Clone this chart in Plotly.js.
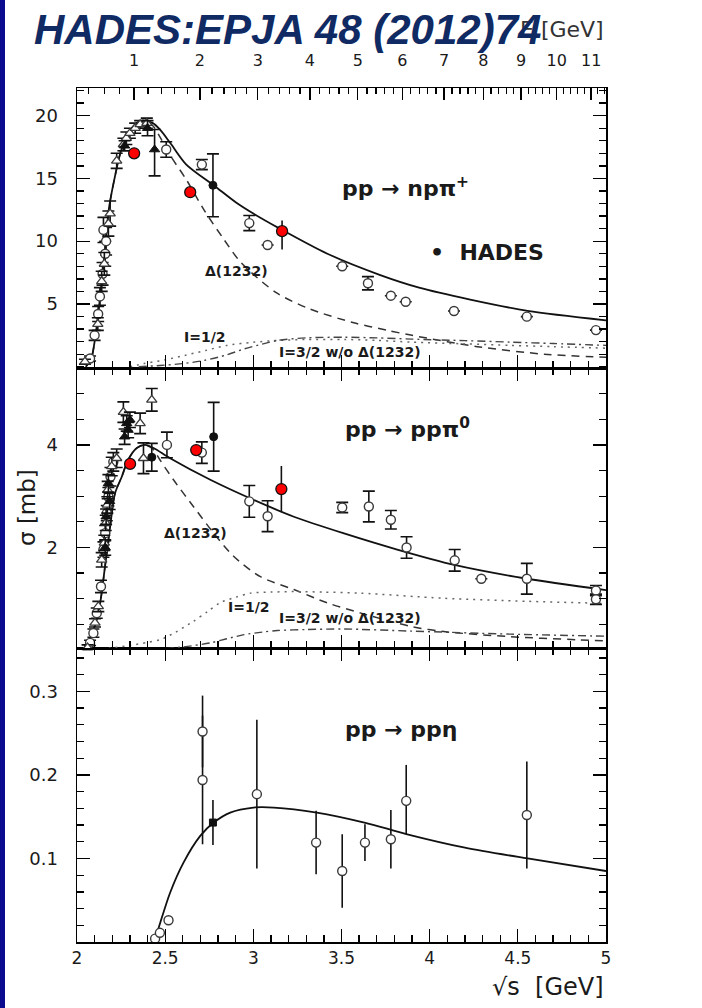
<!DOCTYPE html>
<html>
<head>
<meta charset="utf-8">
<script src="https://cdn.plot.ly/plotly-3.0.1.min.js"></script>
<style>
  html, body { margin: 0; padding: 0; background: #fff; }
  #chart { width: 702px; height: 1008px; }
</style>
</head>
<body>
<div id="chart"></div>
<script>
// ---------- pp -> n p pi+ (sigma in mb vs sqrt(s) in GeV) ----------
const npTotX = [2.05, 2.08, 2.10, 2.13, 2.16, 2.18, 2.21, 2.25, 2.30, 2.35, 2.38, 2.43, 2.47, 2.53, 2.62, 2.78, 2.90, 3.00, 3.15, 3.42, 3.72, 3.94, 4.23, 4.555, 5.0];
const npTotY = [0.0, 0.6, 2.0, 5.4, 9.5, 12.5, 14.8, 17.2, 18.8, 19.5, 19.6, 19.4, 18.9, 17.8, 16.1, 14.4, 13.1, 12.2, 11.0, 9.0, 7.3, 6.3, 5.35, 4.45, 3.7];

const npDeltaX = [2.05, 2.08, 2.10, 2.13, 2.16, 2.18, 2.21, 2.25, 2.30, 2.35, 2.38, 2.43, 2.47, 2.53, 2.62, 2.72, 2.83, 2.93, 3.13, 3.32, 3.57, 3.76, 3.90, 4.27, 4.65, 5.0];
const npDeltaY = [0.0, 0.6, 2.0, 5.4, 9.5, 12.5, 14.8, 17.2, 18.8, 19.5, 19.6, 19.2, 18.3, 16.8, 14.9, 12.5, 10.2, 8.3, 5.9, 4.6, 3.5, 2.9, 2.5, 1.6, 1.0, 0.75];

const npIso12X = [2.30, 2.38, 2.50, 2.61, 2.73, 2.85, 3.00, 3.14, 3.30, 3.52, 3.70, 3.90, 4.20, 4.46, 4.70, 5.0];
const npIso12Y = [0.0, 0.25, 0.55, 0.9, 1.3, 1.7, 1.95, 2.1, 2.17, 2.17, 2.1, 1.96, 1.82, 1.7, 1.6, 1.48];

const npIso32X = [2.35, 2.47, 2.60, 2.72, 2.85, 2.95, 3.05, 3.14, 3.30, 3.52, 3.70, 3.90, 4.20, 4.46, 4.70, 5.0];
const npIso32Y = [0.0, 0.1, 0.25, 0.5, 0.95, 1.43, 1.8, 2.1, 2.3, 2.35, 2.3, 2.2, 2.08, 1.96, 1.85, 1.7];

const npOpenCircX = [2.074, 2.100, 2.120, 2.130, 2.145, 2.150, 2.160, 2.165, 2.506, 2.708, 2.977, 3.081, 3.504, 3.650, 3.780, 3.864, 4.138, 4.551, 4.943];
const npOpenCircY = [0.66, 2.5, 4.2, 5.6, 7.4, 10.9, 9.0, 10.0, 17.3, 16.1, 11.44, 9.7, 8.0, 6.65, 5.66, 5.18, 4.44, 3.99, 2.92];
const npOpenCircErr = [0.2, 0.4, 0.6, 0.7, 0.9, 1.0, 1.0, 1.1, 0.62, 0.4, 0.6, 0, 0, 0.53, 0, 0, 0, 0, 0];

const npOpenTriX = [2.045, 2.118, 2.140, 2.155, 2.178, 2.188, 2.225, 2.263, 2.280, 2.300, 2.330, 2.358, 2.396];
const npOpenTriY = [0.4, 3.4, 6.8, 8.2, 11.4, 12.2, 16.4, 17.7, 18.2, 18.6, 19.0, 19.3, 19.4];
const npOpenTriErr = [0.2, 0.5, 0.8, 0.9, 1.0, 1.0, 0.6, 0.5, 0.5, 0.4, 0.4, 0.3, 0.4];

const npFullTriX = [2.270, 2.400, 2.440];
const npFullTriY = [17.6, 19.0, 17.3];
const npFullTriErrPlus = [0.4, 0.6, 1.6];
const npFullTriErrMinus = [0.4, 0.6, 2.1];

const npFullCircX = [2.771];
const npFullCircY = [14.45];
const npFullCircErr = [2.5];

const npHadesX = [2.324, 2.642, 3.163];
const npHadesY = [17.0, 13.9, 10.8];
const npHadesErrPlus = [0, 0, 0.85];
const npHadesErrMinus = [0, 0, 1.46];

// ---------- pp -> p p pi0 ----------
const ppTotX = [2.03, 2.064, 2.121, 2.159, 2.188, 2.216, 2.254, 2.29, 2.339, 2.386, 2.434, 2.528, 2.756, 3.0, 3.23, 3.51, 3.816, 4.14, 4.536, 5.0];
const ppTotY = [0.0, 0.14, 0.72, 1.63, 2.41, 3.06, 3.38, 3.71, 3.94, 4.0, 3.94, 3.74, 3.32, 2.93, 2.60, 2.28, 1.96, 1.66, 1.40, 1.17];

const ppDeltaX = [2.03, 2.064, 2.121, 2.159, 2.188, 2.216, 2.254, 2.29, 2.339, 2.386, 2.43, 2.47, 2.547, 2.66, 2.775, 2.888, 3.04, 3.23, 3.419, 3.61, 3.894, 4.08, 4.46, 4.84, 5.0];
const ppDeltaY = [0.0, 0.14, 0.72, 1.63, 2.41, 3.06, 3.38, 3.71, 3.94, 4.0, 3.92, 3.71, 3.32, 2.80, 2.28, 1.83, 1.43, 1.18, 0.92, 0.72, 0.46, 0.36, 0.26, 0.20, 0.18];

const ppIso12X = [2.10, 2.19, 2.30, 2.40, 2.47, 2.56, 2.66, 2.74, 2.81, 2.90, 2.985, 3.10, 3.23, 3.40, 3.61, 4.08, 4.557, 5.0];
const ppIso12Y = [0.0, 0.04, 0.09, 0.15, 0.20, 0.35, 0.56, 0.75, 0.92, 1.03, 1.11, 1.13, 1.14, 1.13, 1.11, 1.01, 0.95, 0.91];

const ppIso32X = [2.30, 2.47, 2.60, 2.757, 2.85, 2.947, 3.05, 3.136, 3.30, 3.515, 3.894, 4.46, 5.0];
const ppIso32Y = [0.0, 0.02, 0.06, 0.14, 0.22, 0.30, 0.35, 0.38, 0.40, 0.41, 0.37, 0.31, 0.27];

const ppOpenCircX = [2.074, 2.093, 2.112, 2.136, 2.150, 2.160, 2.169, 2.178, 2.190, 2.206, 2.510, 2.708, 2.977, 3.081, 3.504, 3.655, 3.780, 3.869, 4.142, 4.293, 4.551, 4.943, 4.943];
const ppOpenCircY = [0.14, 0.33, 0.72, 1.24, 1.96, 2.28, 2.67, 2.99, 3.38, 3.67, 4.0, 3.85, 2.90, 2.61, 2.78, 2.80, 2.54, 2.0, 1.75, 1.39, 1.39, 1.16, 0.99];
const ppOpenCircErr = [0.05, 0.08, 0.1, 0.12, 0.15, 0.15, 0.15, 0.18, 0.18, 0.18, 0.25, 0.21, 0.31, 0.30, 0.1, 0.30, 0.18, 0.21, 0.21, 0, 0.30, 0.1, 0.1];

const ppOpenTriX = [2.060, 2.102, 2.121, 2.140, 2.155, 2.163, 2.172, 2.174, 2.197, 2.225, 2.263, 2.358, 2.377, 2.424];
const ppOpenTriY = [0.05, 0.53, 0.85, 1.76, 2.09, 2.48, 2.83, 3.12, 3.58, 3.74, 4.64, 4.42, 3.74, 4.88];
const ppOpenTriErr = [0.05, 0.08, 0.1, 0.14, 0.15, 0.15, 0.16, 0.17, 0.18, 0.18, 0.2, 0.2, 0.3, 0.22];

const ppFullTriX = [2.160, 2.165, 2.178, 2.185, 2.270, 2.282, 2.290, 2.300];
const ppFullTriY = [2.0, 2.6, 3.25, 2.9, 4.16, 4.42, 4.29, 4.49];
const ppFullTriErr = [0.15, 0.15, 0.17, 0.16, 0.15, 0.15, 0.15, 0.15];

const ppFullCircX = [2.424, 2.775];
const ppFullCircY = [3.76, 4.16];
const ppFullCircErr = [0.27, 0.67];

const ppHadesX = [2.301, 2.676, 3.159];
const ppHadesY = [3.63, 3.90, 3.14];
const ppHadesErr = [0, 0, 0.45];

// ---------- pp -> p p eta ----------
const etaTotX = [2.443, 2.472, 2.528, 2.604, 2.699, 2.775, 2.869, 3.0, 3.116, 3.36, 3.63, 3.873, 4.2, 4.555, 5.0];
const etaTotY = [0.003, 0.023, 0.059, 0.095, 0.127, 0.143, 0.155, 0.161, 0.161, 0.155, 0.143, 0.129, 0.113, 0.100, 0.085];

const etaOpenCircX = [2.443, 2.470, 2.519, 2.712, 2.712, 3.020, 3.356, 3.504, 3.633, 3.780, 3.867, 4.551];
const etaOpenCircY = [0.004, 0.011, 0.026, 0.252, 0.194, 0.177, 0.119, 0.085, 0.119, 0.123, 0.169, 0.152];
const etaErrPlus = [0, 0, 0, 0.043, 0.077, 0.089, 0.038, 0.044, 0.022, 0.035, 0.043, 0.064];
const etaErrMinus = [0, 0, 0, 0.043, 0.077, 0.089, 0.038, 0.044, 0.022, 0.035, 0.040, 0.064];

const etaFullSqX = [2.771];
const etaFullSqY = [0.143];
const etaFullSqErr = [0.027];

// ---------- beam kinetic energy axis (top) ----------
const beamEnergyTicks = [1, 2, 3, 4, 5, 6, 7, 8, 9, 10, 11];
const beamEnergyLabels = ['1', '2', '3', '4', '5', '6', '7', '8', '9', '10', '11'];

// sqrt(s) for a proton beam of kinetic energy T on a proton target
const M_P = 0.93827;
function sqrtS(T) { return Math.sqrt(4 * M_P * M_P + 2 * M_P * T); }

const eMinor = [];
for (let i = 2; i <= 57; i++) {
  const T = i * 0.2;
  if (Math.abs(T - Math.round(T)) > 1e-6) eMinor.push(sqrtS(T));
}

// ---------- styles ----------
const FONT = 'DejaVu Sans, Verdana, sans-serif';
const INK = '#111';

function curve(x, y, xa, ya, dash, color, width) {
  return { type: 'scatter', mode: 'lines', x: x, y: y, xaxis: xa, yaxis: ya,
    line: { color: color, width: width, dash: dash, shape: 'spline', smoothing: 0.8 },
    hoverinfo: 'skip', showlegend: false };
}
function points(x, y, xa, ya, marker, errPlus, errMinus, capWidth) {
  const t = { type: 'scatter', mode: 'markers', x: x, y: y, xaxis: xa, yaxis: ya,
    marker: marker, showlegend: false, cliponaxis: false, hoverinfo: 'skip' };
  if (errPlus) {
    t.error_y = { type: 'data', symmetric: !errMinus, array: errPlus, visible: true,
      color: INK, thickness: 1.6, width: capWidth };
    if (errMinus) t.error_y.arrayminus = errMinus;
  }
  return t;
}
const openCircle = { symbol: 'circle', size: 9, color: '#fff', line: { color: '#3a3a3a', width: 1.4 } };
const openTri = { symbol: 'triangle-up', size: 9, color: '#fff', line: { color: '#3a3a3a', width: 1.3 } };
const fullTri = { symbol: 'triangle-up', size: 9, color: '#111', line: { color: '#111', width: 1 } };
const fullCirc = { symbol: 'circle', size: 8, color: '#111', line: { color: '#111', width: 1 } };
const fullSq = { symbol: 'square', size: 7, color: '#111', line: { color: '#111', width: 1 } };
const hades = { symbol: 'circle', size: 11, color: '#ff0000', line: { color: '#111', width: 1.3 } };

const DASH = '8px,6px';
const DOT = '2px,5px';
const DASHDOT = '8px,4px,2px,4px';

const traces = [
  // top panel
  curve(npDeltaX, npDeltaY, 'x3', 'y3', DASH, '#333', 1.5),
  curve(npIso12X, npIso12Y, 'x3', 'y3', DOT, '#666', 1.5),
  curve(npIso32X, npIso32Y, 'x3', 'y3', DASHDOT, '#444', 1.4),
  curve(npTotX, npTotY, 'x3', 'y3', 'solid', INK, 1.8),
  points(npOpenCircX, npOpenCircY, 'x3', 'y3', openCircle, npOpenCircErr, null, 6),
  points(npOpenTriX, npOpenTriY, 'x3', 'y3', openTri, npOpenTriErr, null, 6),
  points(npFullTriX, npFullTriY, 'x3', 'y3', fullTri, npFullTriErrPlus, npFullTriErrMinus, 6),
  points(npFullCircX, npFullCircY, 'x3', 'y3', fullCirc, npFullCircErr, null, 6),
  points(npHadesX, npHadesY, 'x3', 'y3', hades, npHadesErrPlus, npHadesErrMinus, 0),
  // empty trace that carries the beam-energy axis along the top edge
  { type: 'scatter', mode: 'markers', x: [null], y: [null], xaxis: 'x4', yaxis: 'y3',
    showlegend: false, hoverinfo: 'skip' },
  // middle panel
  curve(ppDeltaX, ppDeltaY, 'x2', 'y2', DASH, '#333', 1.5),
  curve(ppIso12X, ppIso12Y, 'x2', 'y2', DOT, '#666', 1.5),
  curve(ppIso32X, ppIso32Y, 'x2', 'y2', DASHDOT, '#444', 1.4),
  curve(ppTotX, ppTotY, 'x2', 'y2', 'solid', INK, 1.8),
  points(ppOpenCircX, ppOpenCircY, 'x2', 'y2', openCircle, ppOpenCircErr, null, 6),
  points(ppOpenTriX, ppOpenTriY, 'x2', 'y2', openTri, ppOpenTriErr, null, 6),
  points(ppFullTriX, ppFullTriY, 'x2', 'y2', fullTri, ppFullTriErr, null, 6),
  points(ppFullCircX, ppFullCircY, 'x2', 'y2', fullCirc, ppFullCircErr, null, 6),
  points(ppHadesX, ppHadesY, 'x2', 'y2', hades, ppHadesErr, null, 0),
  // bottom panel
  curve(etaTotX, etaTotY, 'x', 'y', 'solid', INK, 1.8),
  points(etaOpenCircX, etaOpenCircY, 'x', 'y', openCircle, etaErrPlus, etaErrMinus, 0),
  points(etaFullSqX, etaFullSqY, 'x', 'y', fullSq, etaFullSqErr, null, 0)
];

const tickFont = { family: FONT, size: 18, color: '#1a1a1a' };
const baseAxis = {
  showline: true, linecolor: '#000', linewidth: 1.5, ticks: 'inside', tickcolor: '#000',
  tickwidth: 1.3, ticklen: 13, zeroline: false, showgrid: false, tickfont: tickFont, fixedrange: true
};
const xMinor = { ticks: 'inside', tickmode: 'linear', tick0: 2, dtick: 0.1, ticklen: 7, tickcolor: '#000', tickwidth: 1.3 };

const D1 = 294 / 854, D2 = 574 / 854;

const ann = [];
function label(text, xa, ya, x, y, size, bold, extra) {
  ann.push(Object.assign({ text: text, xref: xa, yref: ya, x: x, y: y, xanchor: 'left', yanchor: 'middle',
    showarrow: false, font: { family: FONT, size: size, color: '#1a1a1a', weight: bold ? 'bold' : 'normal' } }, extra || {}));
}
// process labels and component names
label('pp → npπ<sup>+</sup>', 'x3', 'y3', 3.494, 14.3, 22, true);
label('•  HADES', 'x3', 'y3', 3.99, 9.1, 22, true);
label('Δ(1232)', 'x3', 'y3', 2.716, 7.6, 14, true);
label('I=1/2', 'x3', 'y3', 2.597, 2.4, 14, true);
label('I=3/2 w/o Δ(1232)', 'x3', 'y3', 3.136, 1.2, 14, true);
label('pp → ppπ<sup>0</sup>', 'x2', 'y2', 3.511, 4.33, 22, true);
label('Δ(1232)', 'x2', 'y2', 2.483, 2.29, 14, true);
label('I=1/2', 'x2', 'y2', 2.847, 0.83, 14, true);
label('I=3/2 w/o Δ(1232)', 'x2', 'y2', 3.136, 0.63, 14, true);
label('pp → ppη', 'x', 'y', 3.511, 0.254, 22, true);
// axis titles
ann.push({ text: 'σ [mb]', xref: 'paper', yref: 'paper', x: (27 - 77) / 529, y: (942 - 508) / 854,
  xanchor: 'center', yanchor: 'middle', textangle: -90, showarrow: false,
  font: { family: FONT, size: 23, color: '#1a1a1a' } });
ann.push({ text: '√s  [GeV]', xref: 'paper', yref: 'paper', x: 1.0, y: (942 - 987) / 854,
  xanchor: 'right', yanchor: 'middle', showarrow: false,
  font: { family: FONT, size: 24, color: '#1a1a1a' } });
ann.push({ text: 'E [GeV]', xref: 'paper', yref: 'paper', x: 1.0, y: (942 - 30) / 854,
  xanchor: 'right', yanchor: 'middle', showarrow: false,
  font: { family: FONT, size: 22, color: '#333' } });
// heading
ann.push({ text: '<i><b>HADES:EPJA 48 (2012)74</b></i>', xref: 'paper', yref: 'paper',
  x: (32 - 77) / 529, y: (942 - 29) / 854, xanchor: 'left', yanchor: 'middle', showarrow: false,
  font: { family: 'Liberation Sans, Arial, sans-serif', size: 42, color: '#102a63' } });

const layout = {
  width: 702, height: 1008,
  margin: { l: 77, r: 96, t: 88, b: 66 },
  paper_bgcolor: '#fff', plot_bgcolor: '#fff',
  showlegend: false,
  xaxis: Object.assign({}, baseAxis, { anchor: 'y', range: [2, 5], tick0: 2, dtick: 0.5, mirror: 'ticks',
    minor: xMinor, ticklabelstandoff: 0, tickfont: { family: FONT, size: 17, color: '#1a1a1a' } }),
  xaxis2: Object.assign({}, baseAxis, { anchor: 'y2', matches: 'x', range: [2, 5], tick0: 2, dtick: 0.5,
    mirror: 'ticks', minor: xMinor, showticklabels: false }),
  xaxis3: Object.assign({}, baseAxis, { anchor: 'y3', matches: 'x', range: [2, 5], tick0: 2, dtick: 0.5,
    mirror: false, minor: xMinor, showticklabels: false }),
  xaxis4: Object.assign({}, baseAxis, { overlaying: 'x3', anchor: 'y3', side: 'top', range: [2, 5],
    autorange: false, tickmode: 'array', tickvals: beamEnergyTicks.map(sqrtS), ticktext: beamEnergyLabels, ticklen: 12,
    tickfont: { family: FONT, size: 16, color: '#1a1a1a' }, ticklabelstandoff: 14,
    minor: { ticks: 'inside', tickmode: 'array', tickvals: eMinor, ticklen: 6, tickcolor: '#000', tickwidth: 1.3 } }),
  yaxis: Object.assign({}, baseAxis, { domain: [0, D1], range: [0, 0.352], tickmode: 'array',
    tickvals: [0.1, 0.2, 0.3], ticktext: ['0.1', '0.2', '0.3'], mirror: 'ticks', ticklabelstandoff: 14,
    minor: { ticks: 'inside', tickmode: 'linear', tick0: 0, dtick: 0.02, ticklen: 7, tickcolor: '#000', tickwidth: 1.3 } }),
  yaxis2: Object.assign({}, baseAxis, { domain: [D1, D2], range: [0.04, 5.5], tickmode: 'array',
    tickvals: [2, 4], ticktext: ['2', '4'], mirror: 'ticks', ticklabelstandoff: 14,
    minor: { ticks: 'inside', tickmode: 'linear', tick0: 0, dtick: 0.5, ticklen: 7, tickcolor: '#000', tickwidth: 1.3 } }),
  yaxis3: Object.assign({}, baseAxis, { domain: [D2, 1], range: [-0.1, 22.2], tickmode: 'array',
    tickvals: [5, 10, 15, 20], ticktext: ['5', '10', '15', '20'], mirror: 'ticks', ticklabelstandoff: 14,
    minor: { ticks: 'inside', tickmode: 'linear', tick0: 0, dtick: 1, ticklen: 7, tickcolor: '#000', tickwidth: 1.3 } }),
  shapes: [
    { type: 'rect', xref: 'paper', yref: 'paper', x0: -77 / 529, x1: (5 - 77) / 529,
      y0: -66 / 854, y1: 1 + 88 / 854, fillcolor: '#0b0b8f', line: { width: 0 }, layer: 'below' }
  ],
  annotations: ann
};

Plotly.newPlot('chart', traces, layout, { staticPlot: true, displayModeBar: false });
</script>
</body>
</html>
